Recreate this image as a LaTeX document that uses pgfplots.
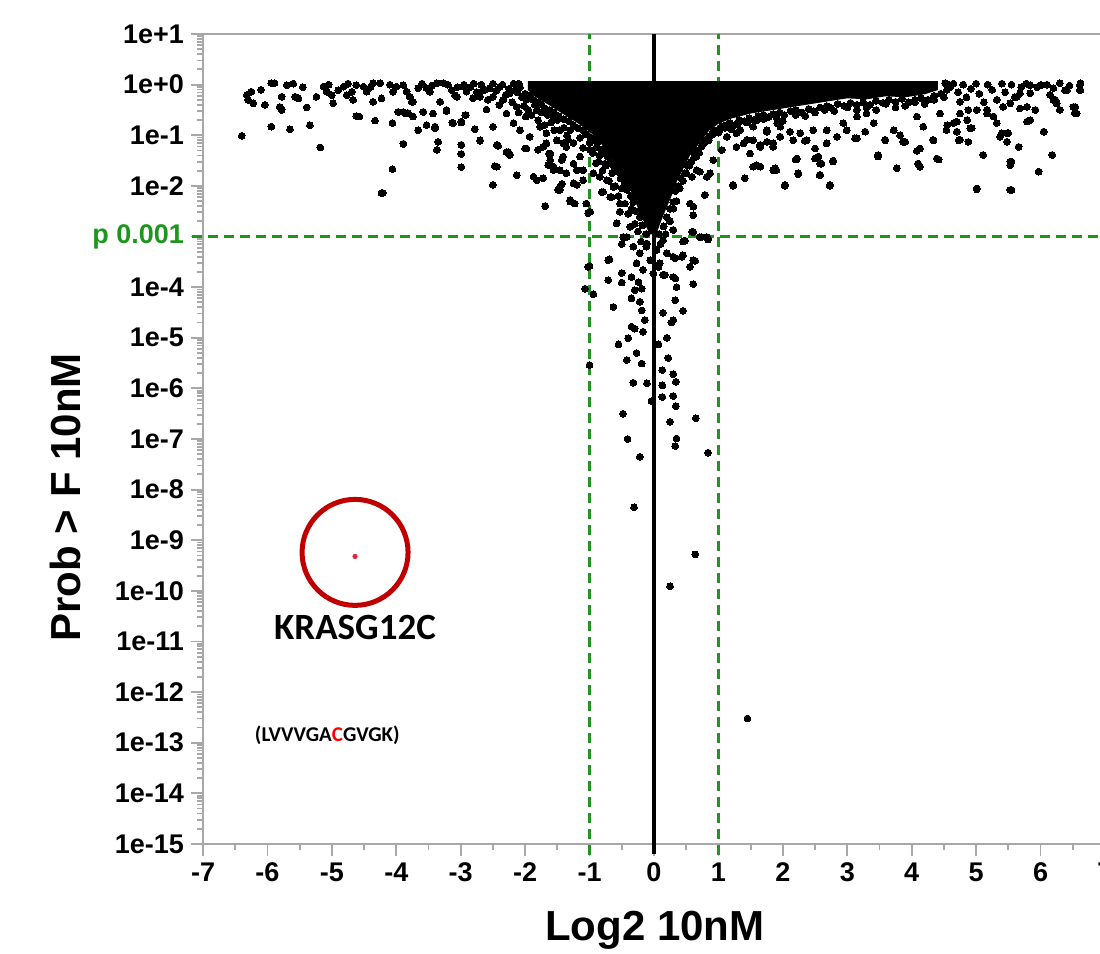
\documentclass[border=0pt]{standalone}
\usepackage{pgfplots}
\pgfplotsset{compat=1.18}
\usepackage{pgfplotstable}
\usepackage{fontspec}
\setmainfont{Liberation Sans}
\newfontfamily\calib{Carlito}

\definecolor{axgray}{RGB}{168,168,168}
\definecolor{dgreen}{RGB}{30,150,30}
\definecolor{circred}{RGB}{192,0,0}
\definecolor{dotred}{RGB}{220,40,70}

% y is log10(Prob > F)
\pgfplotstableread{
x ly
-6.32 -0.21
-6.25 -0.14
-6.22 -0.37
-6.04 -0.40
-5.94 0.03
-5.89 0.03
-5.81 -0.44
-5.78 -0.24
-5.70 -0.01
-5.78 -0.50
-5.57 -0.24
-5.52 -0.27
-5.39 -0.45
-5.24 -0.24
-5.13 -0.04
-5.08 -0.14
-5.00 -0.21
-4.98 -0.37
-4.90 -0.11
-4.82 -0.04
-4.77 -0.21
-4.69 -0.14
-4.67 -0.30
-4.62 -0.01
-4.51 -0.04
-4.46 -0.14
-4.36 0.03
-4.25 0.03
-4.36 -0.34
-4.23 -0.27
-4.05 -0.14
-4.00 -0.04
-3.89 -0.01
-3.84 -0.14
-3.79 -0.24
-3.74 -0.34
-3.66 -0.07
-3.53 -0.07
-3.48 -0.14
-3.37 0.03
-3.32 -0.34
-3.27 0.03
-3.14 -0.11
-3.09 -0.21
-2.96 -0.04
-2.91 -0.14
-2.81 -0.27
-2.70 -0.24
-2.65 -0.11
-2.55 -0.07
-2.50 -0.24
-6.40 -1.01
-5.94 -0.83
-5.65 -0.88
-5.34 -0.80
-5.18 -1.24
-4.62 -0.62
-4.57 -0.63
-4.33 -0.71
-4.06 -0.76
-4.06 -1.67
-4.23 -2.14
-3.97 -0.54
-3.89 -0.54
-3.89 -1.17
-3.82 -0.56
-3.66 -0.90
-3.58 -0.54
-3.53 -0.80
-3.40 -0.86
-3.43 -0.57
-3.35 -1.13
-3.37 -1.29
-3.22 -0.52
-3.12 -0.76
-2.99 -0.73
-2.99 -1.19
-2.99 -1.37
-2.99 -1.63
-2.93 -0.60
-2.78 -0.88
-2.70 -1.10
-2.60 -0.49
-2.50 -0.83
-2.44 -1.19
-2.47 -1.61
-2.50 -1.98
-2.29 -1.33
-2.24 -1.39
-2.13 -1.79
-2.00 -1.26
-1.87 -1.82
-1.82 -1.89
-1.69 -2.40
-1.64 -1.59
-1.56 -1.62
-1.49 -2.08
-1.46 -1.69
-1.36 -1.75
-1.30 -2.31
-1.20 -1.98
-1.05 -2.35
-1.02 -2.54
-1.02 -3.60
-0.94 -1.75
-0.86 -1.52
-0.79 -2.12
-0.73 -1.89
-0.68 -2.22
-0.58 -2.74
-0.71 -3.47
-2.39 -0.04
-2.34 -0.30
-2.29 -0.57
-2.24 -0.17
-2.18 -0.76
-2.13 -0.44
-2.08 -0.90
-2.03 -0.24
-1.99 -0.63
-1.93 -1.03
-1.87 -0.11
-1.82 -0.50
-1.77 -0.83
-1.72 -1.23
-1.67 -0.96
-1.61 -1.36
-1.56 -0.63
-1.51 -1.10
-1.46 -0.90
-1.41 -1.42
-1.36 -1.23
-1.25 -1.56
-1.15 -1.42
-1.10 -1.69
-0.99 -1.29
-0.89 -1.23
-0.84 -1.82
-0.76 -1.56
-0.63 -2.02
-0.53 -2.35
-0.42 -2.08
-0.32 -2.48
-0.22 -2.61
-0.48 -1.69
-0.50 -3.15
-0.69 -3.45
-1.00 -3.58
-1.07 -4.03
-0.94 -4.14
-0.71 -3.86
-0.50 -3.72
-0.50 -3.91
-0.35 -3.80
-0.24 -3.90
-0.30 -4.06
-0.19 -4.03
-0.35 -4.22
-0.22 -4.29
-0.19 -4.46
-0.63 -4.39
-0.14 -4.65
-0.35 -4.78
-0.30 -4.82
-0.17 -4.88
-0.40 -5.01
-0.55 -5.13
-0.27 -5.30
-0.42 -5.44
-0.19 -5.51
-1.00 -5.54
-0.32 -5.89
-0.11 -5.90
-0.04 -6.25
-0.48 -6.50
-0.41 -7.00
-0.22 -7.35
-0.31 -8.35
0.64 -9.28
0.25 -9.91
1.45 -12.52
0.17 -3.76
0.33 -3.43
0.45 -3.37
0.64 -3.48
0.56 -3.60
0.33 -3.83
0.35 -4.00
0.61 -3.94
0.33 -4.26
0.45 -4.47
0.14 -4.51
0.30 -4.65
0.27 -4.70
0.20 -5.00
0.07 -5.13
0.22 -5.40
0.13 -5.64
0.30 -5.72
0.34 -5.87
0.13 -5.94
0.30 -6.15
0.13 -6.17
0.34 -6.35
0.65 -6.59
0.25 -6.66
0.35 -6.99
0.33 -7.14
0.84 -7.27
0.48 -3.08
0.71 -3.01
0.84 -3.06
-0.42 -3.01
-0.32 -3.20
-0.22 -3.33
-0.11 -3.14
-0.06 -3.47
0.04 -3.27
0.09 -3.53
0.14 -3.07
0.20 -3.33
-0.27 -3.53
-0.17 -3.66
-0.01 -3.73
0.07 -3.60
6.62 0.03
6.62 -0.11
6.41 -0.11
6.30 0.03
6.20 -0.07
6.23 -0.30
6.30 -0.50
6.51 -0.44
6.53 -0.56
6.00 -0.01
5.84 -0.01
5.84 -0.17
5.68 -0.17
5.53 -0.37
5.92 -0.50
5.84 -0.70
6.05 -0.93
6.18 -1.39
5.97 -1.72
5.66 -1.23
5.48 -0.96
5.37 -1.03
5.27 -0.63
5.55 -1.52
5.53 -1.59
5.53 -2.08
5.11 -1.39
5.01 -2.07
4.91 -0.86
4.73 -1.10
4.70 -0.73
4.88 -0.50
4.75 -0.34
4.44 -0.57
4.34 -1.10
4.39 -1.46
4.13 -1.26
4.10 -1.56
4.13 -1.62
3.77 -1.65
3.87 -1.13
3.48 -1.39
3.59 -1.10
3.72 -0.90
3.15 -1.06
2.73 -1.98
2.78 -1.52
2.58 -1.56
2.55 -1.42
2.50 -1.46
2.58 -1.79
2.22 -1.46
2.24 -1.75
2.03 -1.98
1.90 -1.69
1.88 -1.65
1.59 -1.59
1.41 -1.85
1.23 -1.98
1.49 -1.36
1.65 -1.19
1.75 -1.13
1.96 -1.03
2.11 -0.93
2.37 -1.10
2.68 -0.90
2.94 -0.76
3.41 -0.76
4.08 -0.63
4.18 -0.83
4.54 -0.90
4.75 -0.57
5.01 -0.50
5.17 -0.57
5.32 -0.76
5.42 -0.44
5.63 -0.24
5.79 -0.44
0.79 -2.18
0.87 -1.75
0.71 -1.72
0.66 -1.42
0.56 -2.35
0.61 -2.58
0.30 -2.87
0.59 -2.91
0.74 -3.01
0.84 -3.04
0.30 -3.40
0.43 -3.40
0.61 -3.47
0.56 -3.60
0.14 -3.76
0.30 -3.80
1.02 -0.90
1.13 -1.03
1.28 -0.96
1.39 -1.16
1.54 -1.10
1.75 -0.90
1.85 -1.23
1.96 -0.83
2.16 -1.10
2.27 -0.96
2.47 -0.90
2.68 -1.16
2.84 -1.03
2.99 -0.90
3.15 -0.63
3.30 -0.57
2.03 -2.00
2.24 -1.77
2.20 -1.48
2.57 -1.79
2.73 -2.00
2.53 -1.46
2.60 -1.56
2.78 -1.50
2.34 -1.11
2.50 -1.26
3.12 -1.06
3.28 -0.93
3.48 -1.42
3.59 -1.09
3.77 -1.65
3.82 -1.00
3.90 -1.13
4.08 -1.31
4.10 -1.56
4.33 -1.09
4.42 -1.48
4.55 -0.80
4.65 -0.76
4.70 -0.93
4.75 -1.09
4.88 -1.13
4.86 -0.70
4.93 -0.86
5.01 -2.05
5.11 -1.39
5.17 -0.50
5.27 -0.63
5.40 -0.96
5.50 -0.96
5.48 -1.13
5.53 -1.52
5.55 -2.08
5.66 -1.23
5.79 -0.73
5.92 -0.50
5.97 -1.72
6.05 -0.93
6.18 -1.39
6.20 -0.30
6.30 -0.50
6.25 -0.37
6.38 -0.11
6.54 -0.44
6.56 -0.57
6.61 -0.01
6.61 -0.11
6.01 -0.01
5.84 -0.01
5.84 -0.17
5.68 -0.47
-1.69 -2.40
-1.72 -1.85
-1.46 -2.02
-1.43 -1.49
-1.56 -1.69
-1.30 -2.28
-1.25 -1.95
-0.99 -2.51
-1.10 -1.89
-0.84 -1.82
-0.81 -2.12
-0.66 -2.22
-0.58 -2.74
-0.53 -2.51
-0.48 -3.01
-0.37 -2.81
-1.20 -1.69
-1.67 -1.16
-1.63 -1.36
-1.41 -1.16
1.23 -2.00
1.41 -1.85
1.54 -1.62
1.65 -1.62
1.85 -1.69
0.79 -2.18
0.66 -1.69
0.61 -2.41
0.45 -3.10
0.61 -2.91
0.82 -3.01
0.30 -2.87
0.59 -1.82
0.82 -1.82
0.92 -1.49
1.05 -1.29
1.28 -1.23
1.44 -1.09
1.65 -1.23
1.85 -1.16
1.34 -0.90
1.54 -0.83
1.75 -0.93
1.91 -0.76
-4.21 -2.14
-4.06 -1.67
-3.89 -1.17
-4.06 -0.76
-3.66 -0.90
-3.58 -0.54
-3.37 -1.29
-3.35 -1.13
-3.40 -0.83
-3.22 -0.50
-2.99 -1.19
-2.99 -1.37
-2.99 -1.63
-3.13 -0.75
-2.99 -0.75
-2.92 -0.60
-2.78 -0.88
-2.70 -1.11
-2.44 -1.62
-2.42 -1.21
-2.50 -1.98
-2.13 -1.79
-2.26 -1.33
-1.98 -1.26
-1.87 -1.82
-1.69 -2.40
-1.72 -1.85
-1.43 -1.96
-1.30 -2.28
-1.23 -2.35
-1.46 -2.08
-1.61 -1.49
-1.56 -1.69
-1.36 -1.75
-1.33 -1.09
-1.80 -1.29
-3.32 -0.34
-3.76 -0.34
-3.06 -0.24
-3.97 -0.54
-3.87 -0.56
-3.74 -0.63
-2.95 0.00
-2.85 -0.05
-2.80 0.02
-2.75 -0.15
-2.68 0.00
-2.62 -0.10
-2.58 -0.30
-2.50 0.02
-2.45 -0.12
-2.40 -0.40
-2.35 0.00
-2.30 -0.20
-2.25 -0.08
-2.20 -0.35
-2.18 0.02
-2.12 -0.15
-2.10 -0.55
-2.05 -0.25
-2.02 -0.42
-1.98 -0.30
-1.95 -0.50
-1.90 -0.60
-1.85 -0.40
-1.80 -0.70
-1.75 -0.55
-1.70 -0.80
-1.65 -0.60
-1.60 -0.75
-1.55 -0.90
-1.50 -0.70
-1.40 -0.85
-1.35 -1.00
-1.30 -0.90
-1.25 -1.15
-1.15 -1.05
-1.10 -1.25
-1.00 -1.15
-0.95 -1.35
-0.90 -1.55
-0.85 -1.40
-0.80 -1.70
-0.75 -1.60
-0.70 -1.90
-0.65 -1.75
-0.60 -2.00
-0.55 -2.20
-0.50 -2.05
-0.45 -2.35
-0.40 -2.55
-0.35 -2.45
-0.30 -2.75
-0.25 -2.90
-0.20 -3.10
-0.12 -3.20
0.10 -3.15
0.18 -2.95
0.25 -2.70
0.30 -2.45
0.35 -2.30
0.40 -2.05
0.45 -1.90
0.50 -1.75
0.55 -1.60
0.62 -1.45
0.70 -1.35
0.78 -1.15
0.85 -1.10
0.92 -0.98
1.00 -0.95
1.10 -0.85
1.20 -0.88
1.30 -0.78
1.45 -0.75
1.60 -0.70
1.70 -0.68
1.90 -0.65
2.00 -0.72
2.20 -0.60
2.35 -0.62
2.50 -0.55
2.65 -0.50
2.80 -0.52
3.00 -0.45
3.15 -0.50
3.30 -0.45
3.45 -0.50
3.60 -0.38
3.75 -0.45
3.90 -0.42
4.05 -0.35
4.20 -0.38
4.35 -0.30
4.50 -0.25
4.60 -0.05
4.65 0.02
4.72 -0.15
4.80 0.00
4.85 -0.25
4.92 -0.08
5.00 0.02
5.05 -0.18
5.12 -0.35
5.18 0.00
5.25 -0.10
5.32 -0.30
5.40 0.02
5.45 -0.15
5.55 0.00
5.60 -0.25
5.70 -0.05
5.78 0.02
5.95 -0.05
6.10 0.00
6.15 -0.20
6.45 -0.02
-3.05 -0.05
-3.20 0.00
-3.45 -0.02
-3.60 0.02
-4.10 0.00
-4.40 -0.05
-4.75 0.02
-5.05 0.00
-5.45 -0.05
-5.60 0.02
-6.10 -0.10
-6.30 -0.30
0.08 -2.95
0.15 -2.80
0.20 -2.62
0.25 -2.45
0.30 -2.32
0.33 -2.10
0.38 -2.00
0.42 -1.85
0.48 -1.75
0.52 -1.60
0.58 -1.52
0.63 -1.38
0.68 -1.30
0.74 -1.22
0.80 -1.10
0.86 -1.02
0.92 -0.92
0.98 -0.90
1.05 -0.82
1.12 -0.80
1.18 -0.76
1.25 -0.80
1.32 -0.70
1.40 -0.72
1.48 -0.66
1.55 -0.70
1.62 -0.62
1.70 -0.60
1.78 -0.64
1.85 -0.58
1.95 -0.55
2.02 -0.60
2.12 -0.52
2.20 -0.50
2.30 -0.55
2.40 -0.48
2.48 -0.52
2.58 -0.45
2.68 -0.42
2.75 -0.46
2.85 -0.38
2.95 -0.42
3.05 -0.36
3.15 -0.40
3.25 -0.35
3.35 -0.40
3.45 -0.32
3.55 -0.36
3.65 -0.30
3.75 -0.34
3.85 -0.28
3.95 -0.35
4.05 -0.30
4.15 -0.27
4.25 -0.30
4.35 -0.22
4.45 -0.18
4.55 -0.10
4.58 0.00
4.52 0.03
-0.12 -2.95
-0.18 -2.78
-0.22 -2.62
-0.28 -2.50
-0.32 -2.32
-0.36 -2.20
-0.42 -2.05
-0.46 -1.92
-0.52 -1.85
-0.57 -1.72
-0.62 -1.62
-0.68 -1.55
-0.72 -1.42
-0.78 -1.35
-0.82 -1.28
-0.88 -1.15
-0.93 -1.10
-0.98 -1.05
-1.05 -0.98
-1.10 -0.90
-1.18 -0.86
-1.25 -0.80
-1.32 -0.72
-1.40 -0.68
-1.48 -0.62
-1.55 -0.55
-1.62 -0.50
-1.70 -0.46
-1.76 -0.38
-1.82 -0.35
-1.88 -0.30
-1.94 -0.22
-2.00 -0.18
-2.08 -0.05
-2.10 0.02
-2.15 -0.10
}\pts

% outline of the saturated (fully overlapping) core of the cloud
\pgfplotstableread{
x ly
-1.95 0.06
4.40 0.06
4.40 -0.10
4.20 -0.18
3.90 -0.24
3.60 -0.22
3.30 -0.28
3.00 -0.26
2.70 -0.32
2.40 -0.38
2.10 -0.44
1.80 -0.50
1.50 -0.56
1.20 -0.66
1.00 -0.76
0.85 -0.90
0.70 -1.15
0.55 -1.40
0.45 -1.65
0.35 -1.90
0.28 -2.15
0.18 -2.45
0.10 -2.70
0.03 -2.95
-0.06 -2.95
-0.17 -2.65
-0.27 -2.35
-0.37 -2.05
-0.52 -1.75
-0.67 -1.45
-0.82 -1.15
-0.97 -0.95
-1.17 -0.76
-1.42 -0.56
-1.67 -0.36
-1.87 -0.21
-1.95 -0.10
}\core

\begin{document}
\begin{tikzpicture}
\begin{axis}[
    scale only axis,
    width=451pt, height=405pt,
    xmin=-7, xmax=7, ymin=-15, ymax=1,
    clip=false,
    axis line style={axgray, line width=1.2pt},
    tick style={axgray, line width=0.9pt},
    tick align=outside, tick pos=left,
    major tick length=6pt, minor tick length=3pt,
    xtick={-7,-6,...,7},
    xticklabels={-7,-6,-5,-4,-3,-2,-1,0,1,2,3,4,5,6,7},
    minor x tick num=1,
    ytick={-15,-14,...,1},
    yticklabels={1e-15,1e-14,1e-13,1e-12,1e-11,1e-10,1e-9,1e-8,1e-7,1e-6,1e-5,1e-4,\textcolor{dgreen}{p 0.001},1e-2,1e-1,1e+0,1e+1},
    minor ytick={
      -14.699,-14.523,-14.398,-14.301,-14.222,-14.155,-14.097,-14.046,
      -13.699,-13.523,-13.398,-13.301,-13.222,-13.155,-13.097,-13.046,
      -12.699,-12.523,-12.398,-12.301,-12.222,-12.155,-12.097,-12.046,
      -11.699,-11.523,-11.398,-11.301,-11.222,-11.155,-11.097,-11.046,
      -10.699,-10.523,-10.398,-10.301,-10.222,-10.155,-10.097,-10.046,
      -9.699,-9.523,-9.398,-9.301,-9.222,-9.155,-9.097,-9.046,
      -8.699,-8.523,-8.398,-8.301,-8.222,-8.155,-8.097,-8.046,
      -7.699,-7.523,-7.398,-7.301,-7.222,-7.155,-7.097,-7.046,
      -6.699,-6.523,-6.398,-6.301,-6.222,-6.155,-6.097,-6.046,
      -5.699,-5.523,-5.398,-5.301,-5.222,-5.155,-5.097,-5.046,
      -4.699,-4.523,-4.398,-4.301,-4.222,-4.155,-4.097,-4.046,
      -3.699,-3.523,-3.398,-3.301,-3.222,-3.155,-3.097,-3.046,
      -2.699,-2.523,-2.398,-2.301,-2.222,-2.155,-2.097,-2.046,
      -1.699,-1.523,-1.398,-1.301,-1.222,-1.155,-1.097,-1.046,
      -0.699,-0.523,-0.398,-0.301,-0.222,-0.155,-0.097,-0.046,
      0.301,0.477,0.602,0.699,0.778,0.845,0.903,0.954},
    ticklabel style={font=\bfseries\fontsize{13.5}{15}\selectfont},
    xlabel={Log2 10nM},
    ylabel={Prob > F 10nM},
    label style={font=\bfseries\fontsize{21}{25}\selectfont},
    xlabel style={at={(axis description cs:0.501,-0.106)}, anchor=center},
    ylabel style={at={(axis description cs:-0.153,0.428)}, anchor=center},
]
% cut-off lines
\addplot[dgreen, line width=1.9pt, dash pattern=on 5pt off 3pt] coordinates {(-1,-15.22) (-1,1)};
\addplot[dgreen, line width=1.9pt, dash pattern=on 5pt off 3pt] coordinates {(1,-15.22) (1,1)};
\addplot[dgreen, line width=1.9pt, dash pattern=on 5pt off 3pt] coordinates {(-7.17,-3) (7,-3)};

% peptides
\addplot[fill=black, draw=black, line width=0.5pt] table[x=x, y=ly] {\core} -- cycle;
\addplot[only marks, mark=*, mark size=1.7pt, mark options={fill=black, draw=black, line width=0pt}] table[x=x, y=ly] {\pts};

\addplot[black, line width=1.6pt] coordinates {(0,-15.2) (0,1)};

% KRAS G12C
\addplot[only marks, mark=*, mark size=1.1pt, mark options={fill=dotred, draw=dotred}] coordinates {(-4.64,-9.32)};
\draw[circred, line width=2.5pt] (axis cs:-4.64,-9.24) circle[radius=26.5pt];
\node[font=\calib\bfseries\fontsize{18.5}{22}\selectfont] at (axis cs:-4.64,-10.72) {KRASG12C};
\node[font=\calib\bfseries\fontsize{10.5}{12}\selectfont] at (axis cs:-5.07,-12.85) {(LVVVGA{\color{red}C}GVGK)};

\coordinate (BL) at (rel axis cs:-0.2251,-0.1358);
\coordinate (TR) at (rel axis cs:0.9945,1.0420);
\end{axis}
\pgfresetboundingbox
\useasboundingbox (BL) rectangle (TR);
\end{tikzpicture}
\end{document}
